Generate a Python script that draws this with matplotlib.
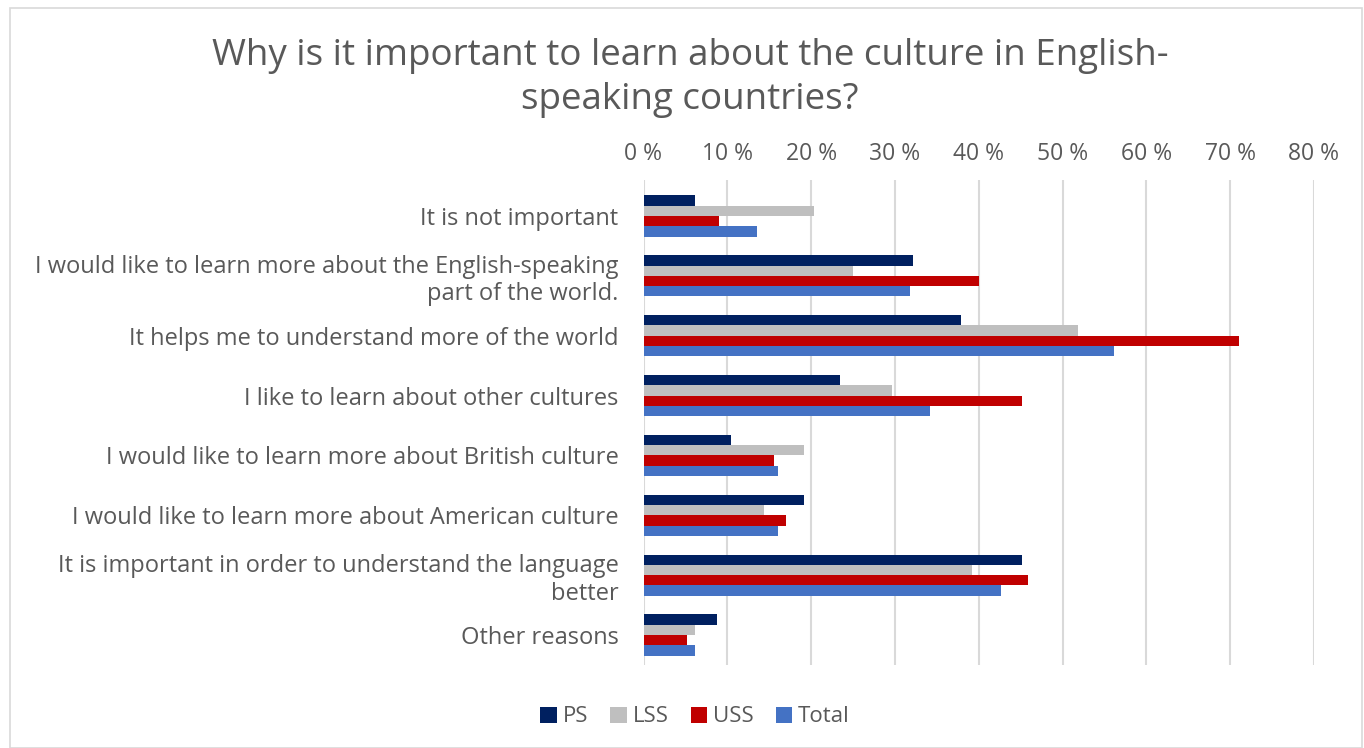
import numpy as np
import matplotlib
matplotlib.use("Agg")
import matplotlib.pyplot as plt
from matplotlib.patches import Rectangle
from matplotlib.ticker import FuncFormatter

categories = [
    "It is not important",
    "I would like to learn more about the English-speaking\npart of the world.",
    "It helps me to understand more of the world",
    "I like to learn about other cultures",
    "I would like to learn more about British culture",
    "I would like to learn more about American culture",
    "It is important in order to understand the language\nbetter",
    "Other reasons",
]
series_names = ["PS", "LSS", "USS", "Total"]
ps = [6.1, 32.1, 37.9, 23.4, 10.4, 19.1, 45.2, 8.8]
lss = [20.3, 25.0, 51.8, 29.7, 19.1, 14.4, 39.2, 6.1]
uss = [9.0, 40.0, 71.1, 45.2, 15.6, 17.0, 45.9, 5.2]
total = [13.5, 31.8, 56.1, 34.2, 16.1, 16.1, 42.7, 6.2]
colors = ["#002060", "#BFBFBF", "#C00000", "#4472C4"]

plt.rcParams['font.family'] = ['Open Sans', 'DejaVu Sans']
txt = "#595959"

fig = plt.figure(figsize=(13.64, 7.48), dpi=100)
ax = fig.add_axes([643.5 / 1364, 1 - 665 / 748, (1314 - 643.5) / 1364, (665 - 180) / 748])

y = np.arange(len(categories))
h = 0.172
for i, (vals, name) in enumerate(zip([ps, lss, uss, total], series_names)):
    ax.barh(y - 1.5 * h + i * h, vals, height=h, color=colors[i], label=name, zorder=3)

ax.set_xlim(0, 80)
ax.set_ylim(len(categories) - 0.5, -0.6)
ax.set_xticks(np.arange(0, 81, 10))
ax.xaxis.set_major_formatter(FuncFormatter(lambda v, p: f"{v:.0f} %"))
ax.xaxis.tick_top()
ax.tick_params(axis='x', length=0, labelsize=16.5, labelcolor=txt, pad=10)
ax.set_yticks(y)
ax.set_yticklabels(categories, fontsize=17, color=txt)
ax.tick_params(axis='y', length=0, pad=18)
ax.grid(axis='x', color="#D9D9D9", linewidth=1.5, zorder=0)
for s in ax.spines.values():
    s.set_visible(False)

fig.text(690 / 1364, 1 - 78 / 748,
         "Why is it important to learn about the culture in English-\nspeaking countries?",
         ha='center', va='center', fontsize=26.5, color=txt, linespacing=1.3)

leg = fig.legend(loc='center', bbox_to_anchor=(695 / 1364, 1 - 717 / 748), ncol=4,
                 frameon=False, fontsize=16, handlelength=0.75, handleheight=0.75,
                 columnspacing=1.0, handletextpad=0.25)
for t in leg.get_texts():
    t.set_color(txt)

fig.patches.append(Rectangle((10 / 1364, 0), 1352 / 1364, 1 - 8 / 748, transform=fig.transFigure,
                             fill=False, edgecolor="#D9D9D9", linewidth=1.2))

fig.savefig("out.png", dpi=100)
